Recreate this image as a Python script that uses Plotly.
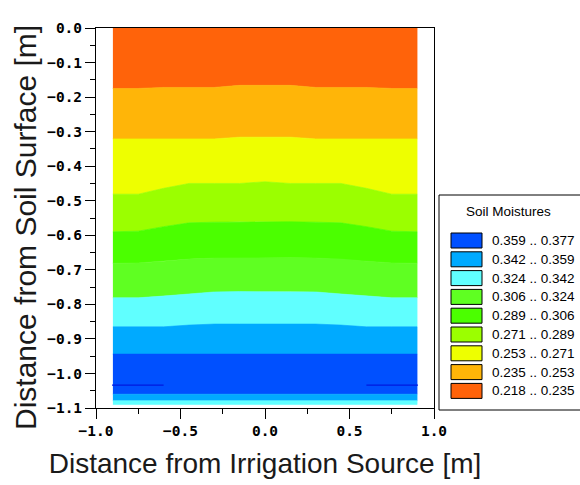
import plotly.graph_objects as go

# ---------------- data ----------------
# horizontal positions of the profile columns [m]
xs = [-0.9, -0.75, -0.6, -0.45, -0.3, -0.15, 0.0, 0.15, 0.3, 0.45, 0.6, 0.75, 0.9]

# depths [m] of the class boundaries along xs (top of profile to bottom)
surface = [0.0] * 13
b_235 = [-0.175, -0.175, -0.172, -0.172, -0.172, -0.166, -0.166, -0.166, -0.172, -0.172, -0.172, -0.175, -0.175]
b_253 = [-0.321, -0.321, -0.321, -0.321, -0.321, -0.316, -0.316, -0.316, -0.321, -0.321, -0.321, -0.321, -0.321]
b_271 = [-0.481, -0.481, -0.464, -0.450, -0.450, -0.450, -0.445, -0.450, -0.450, -0.450, -0.464, -0.481, -0.481]
b_289 = [-0.590, -0.588, -0.575, -0.564, -0.562, -0.561, -0.561, -0.561, -0.562, -0.564, -0.575, -0.588, -0.590]
b_306 = [-0.681, -0.680, -0.675, -0.669, -0.666, -0.665, -0.665, -0.665, -0.666, -0.669, -0.675, -0.680, -0.681]
b_324 = [-0.781, -0.781, -0.776, -0.770, -0.764, -0.763, -0.763, -0.763, -0.764, -0.770, -0.776, -0.781, -0.781]
b_342 = [-0.865, -0.865, -0.865, -0.860, -0.857, -0.857, -0.857, -0.857, -0.857, -0.860, -0.865, -0.865, -0.865]
b_359 = [-0.944] * 13
b_359_low = [-1.060] * 13
b_342_low = [-1.079] * 13
bottom = [-1.090] * 13

# wettest spots (thin dark line near the bottom)
wet_x = [-0.905, -0.6, None, 0.6, 0.905]
wet_y = [-1.0335, -1.0335, None, -1.0335, -1.0335]

# moisture classes (driest first)
class_labels = ["0.218 .. 0.235", "0.235 .. 0.253", "0.253 .. 0.271", "0.271 .. 0.289",
                "0.289 .. 0.306", "0.306 .. 0.324", "0.324 .. 0.342", "0.342 .. 0.359",
                "0.359 .. 0.377"]
class_colors = ["#ff630a", "#ffb508", "#eeff00", "#9bff00", "#4bff00", "#5fff22",
                "#60ffff", "#00aaff", "#0050ff"]

# bands: (upper boundary, lower boundary, class index)
bands = [
    (surface, b_235, 0),
    (b_235, b_253, 1),
    (b_253, b_271, 2),
    (b_271, b_289, 3),
    (b_289, b_306, 4),
    (b_306, b_324, 5),
    (b_324, b_342, 6),
    (b_342, b_359, 7),
    (b_359, b_359_low, 8),
    (b_359_low, b_342_low, 7),
    (b_342_low, bottom, 6),
]

x_title = "Distance from Irrigation Source [m]"
y_title = "Distance from Soil Surface [m]"
legend_title = "Soil Moistures"

# ---------------- figure ----------------
W, H = 580, 485
ML, MR, MT, MB = 96, 146, 28, 77
PW, PH = W - ML - MR, H - MT - MB

fig = go.Figure()
for upper, lower, ci in bands:
    col = class_colors[ci]
    fig.add_trace(go.Scatter(
        x=xs + xs[::-1], y=upper + lower[::-1],
        mode="lines", fill="toself", fillcolor=col,
        line=dict(color=col, width=0.6),
        hoverinfo="skip", showlegend=False))

fig.add_trace(go.Scatter(x=wet_x, y=wet_y, mode="lines",
                         line=dict(color="#0018e0", width=1.2),
                         hoverinfo="skip", showlegend=False))

tickfont = dict(family="DejaVu Sans Mono", size=14.5, color="black", weight="bold")

fig.update_xaxes(
    range=[-1, 1], tick0=-1, dtick=0.5, tickformat=".1f",
    ticks="outside", ticklen=10, tickwidth=1, tickcolor="black",
    minor=dict(dtick=0.25, ticks="outside", ticklen=5, tickcolor="black", showgrid=False),
    showline=True, linecolor="black", linewidth=1, mirror=True,
    showgrid=False, zeroline=False, tickfont=tickfont,
    title=dict(text=x_title,
               font=dict(family="Liberation Sans", size=28, color="#1a1a1a"), standoff=14))
fig.update_yaxes(
    range=[-1.1, 0], tick0=0, dtick=0.1, tickformat=".1f",
    ticks="outside", ticklen=10, tickwidth=1, tickcolor="black",
    minor=dict(dtick=0.05, ticks="outside", ticklen=5, tickcolor="black", showgrid=False),
    showline=True, linecolor="black", linewidth=1, mirror=True,
    showgrid=False, zeroline=False, tickfont=tickfont)


def px_x(p):
    return (p - ML) / PW


def px_y(p):
    return (H - MB - p) / PH


shapes = []
annotations = []
# y-axis title
annotations.append(dict(xref="paper", yref="paper", x=px_x(25), y=px_y(228),
                        text=y_title, textangle=-90, showarrow=False,
                        xanchor="center", yanchor="middle",
                        font=dict(family="Liberation Sans", size=30, color="#1a1a1a")))
# legend box
shapes.append(dict(type="rect", xref="paper", yref="paper",
                   x0=px_x(439), x1=px_x(590), y0=px_y(410), y1=px_y(195),
                   line=dict(color="black", width=1), fillcolor="white", layer="above"))
annotations.append(dict(xref="paper", yref="paper", x=px_x(509), y=px_y(211),
                        text=legend_title, showarrow=False, xanchor="center", yanchor="middle",
                        font=dict(family="Liberation Sans", size=13.5, color="black")))
order = list(range(len(class_labels)))[::-1]
for i, ci in enumerate(order):
    cy = 240.5 + i * 18.8
    shapes.append(dict(type="rect", xref="paper", yref="paper",
                       x0=px_x(451), x1=px_x(482), y0=px_y(cy + 7.5), y1=px_y(cy - 7.5),
                       line=dict(color="black", width=1), fillcolor=class_colors[ci], layer="above"))
    annotations.append(dict(xref="paper", yref="paper", x=px_x(490), y=px_y(cy),
                            text=class_labels[ci], showarrow=False, xanchor="left", yanchor="middle",
                            font=dict(family="Liberation Sans", size=13.5, color="black")))

fig.update_layout(
    width=W, height=H, margin=dict(l=ML, r=MR, t=MT, b=MB, pad=0),
    paper_bgcolor="white", plot_bgcolor="white",
    shapes=shapes, annotations=annotations, showlegend=False)

fig.write_html("out.html")
